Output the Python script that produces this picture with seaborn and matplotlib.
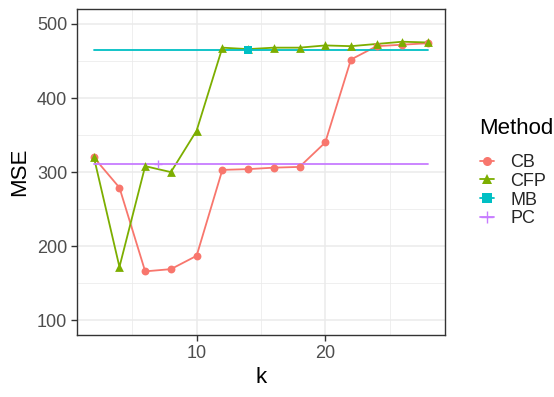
import numpy as np
import pandas as pd
import matplotlib
matplotlib.use("Agg")
import matplotlib.pyplot as plt
from matplotlib.lines import Line2D
from matplotlib.ticker import MultipleLocator
import seaborn as sns

# ---- data ----
k_vals = [2, 4, 6, 8, 10, 12, 14, 16, 18, 20, 22, 24, 26, 28]
cb_mse = [320, 279, 166, 169, 187, 303, 304, 306, 307, 340, 452, 470, 472, 474]
cfp_mse = [321, 172, 308, 300, 356, 468, 466, 468, 468, 471, 470, 473, 476, 475]
mb_mse = 465
mb_k = 14
pc_mse = 311
pc_k = 7
methods = ["CB", "CFP", "MB", "PC"]
colors = ["#F8766D", "#7CAE00", "#00BFC4", "#C77CFF"]
markers = ["o", "^", "s", "+"]

palette = dict(zip(methods, colors))
marker_map = dict(zip(methods, markers))

# line data: CB / CFP follow k, MB / PC are flat reference levels across the k range
k_lo, k_hi = min(k_vals), max(k_vals)
lines = pd.concat([
    pd.DataFrame({"k": k_vals, "MSE": cb_mse, "Method": "CB"}),
    pd.DataFrame({"k": k_vals, "MSE": cfp_mse, "Method": "CFP"}),
    pd.DataFrame({"k": [k_lo, k_hi], "MSE": [mb_mse, mb_mse], "Method": "MB"}),
    pd.DataFrame({"k": [k_lo, k_hi], "MSE": [pc_mse, pc_mse], "Method": "PC"}),
], ignore_index=True)

points = pd.concat([
    pd.DataFrame({"k": k_vals, "MSE": cb_mse, "Method": "CB"}),
    pd.DataFrame({"k": k_vals, "MSE": cfp_mse, "Method": "CFP"}),
    pd.DataFrame({"k": [mb_k], "MSE": [mb_mse], "Method": "MB"}),
    pd.DataFrame({"k": [pc_k], "MSE": [pc_mse], "Method": "PC"}),
], ignore_index=True)

# ---- figure ----
sns.set_theme(style="white")
plt.rcParams["font.family"] = ["Liberation Sans", "DejaVu Sans"]

fig = plt.figure(figsize=(5.54, 3.97), dpi=100)
ax = fig.add_axes([0.139, 0.156, 0.664, 0.821])

sns.lineplot(data=lines, x="k", y="MSE", hue="Method", hue_order=methods,
             palette=palette, linewidth=1.3, legend=False, ax=ax, zorder=3)
for m in methods:
    sub = points[points["Method"] == m]
    sns.scatterplot(data=sub, x="k", y="MSE", color=palette[m],
                    marker=marker_map[m], s=40 if m == "CFP" else 32,
                    linewidth=1.0 if m == "PC" else 0,
                    legend=False, ax=ax, zorder=4)

# scales
ax.set_xlim(k_lo - 0.05 * (k_hi - k_lo), k_hi + 0.05 * (k_hi - k_lo))
ax.set_ylim(80, 520)
ax.set_xticks([10, 20])
ax.set_yticks([100, 200, 300, 400, 500])
ax.xaxis.set_minor_locator(MultipleLocator(5))
ax.set_yticks([150, 250, 350, 450], minor=True)

# grid and frame in a bw style
ax.grid(which="major", color="#EBEBEB", linewidth=1.1, zorder=0)
ax.grid(which="minor", color="#EBEBEB", linewidth=0.55, zorder=0)
ax.set_axisbelow(True)
for sp in ax.spines.values():
    sp.set_color("#333333")
    sp.set_linewidth(1.0)
ax.tick_params(which="major", length=4, width=1.0, color="#333333",
               labelsize=13, labelcolor="#4D4D4D", pad=3,
               bottom=True, left=True)
ax.tick_params(which="minor", length=0)

ax.set_xlabel("k", fontsize=16, color="black", labelpad=4)
ax.set_ylabel("MSE", fontsize=16, color="black", labelpad=5)

# legend: title as text, keys show line + point
fig.text(0.865, 1 - 129 / 397, "Method", fontsize=16, color="black",
         ha="left", va="center")
handles = [Line2D([0], [0], color=palette[m], linewidth=1.3, marker=marker_map[m],
                  markersize=6.5 if m != "PC" else 8, markeredgewidth=1.0 if m == "PC" else 0)
           for m in methods]
leg = fig.legend(handles, methods, loc="upper left",
                 bbox_to_anchor=(0.866, 1 - 154 / 397), frameon=False, fontsize=13,
                 handlelength=0.8, handletextpad=0.9,
                 labelspacing=0.1, borderpad=0, borderaxespad=0)

fig.savefig("out.png", dpi=100)
